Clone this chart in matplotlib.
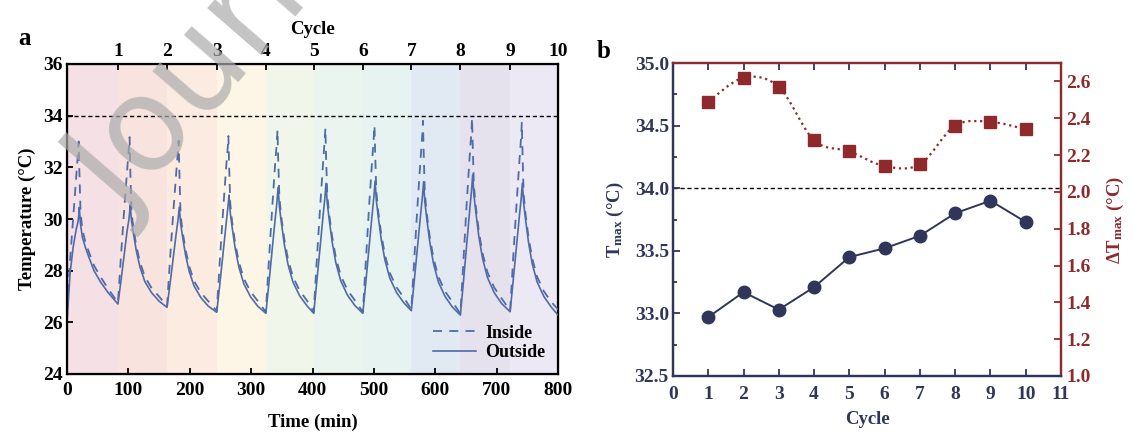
import numpy as np
import matplotlib
matplotlib.use("Agg")
import matplotlib.pyplot as plt
from matplotlib.path import Path
from matplotlib.patches import PathPatch

plt.rcParams['font.family'] = ['Liberation Serif', 'DejaVu Serif']
plt.rcParams['font.weight'] = 'bold'
plt.rcParams['axes.labelweight'] = 'bold'
plt.rcParams['mathtext.fontset'] = 'custom'
plt.rcParams['mathtext.rm'] = 'Liberation Serif:bold'
plt.rcParams['mathtext.it'] = 'Liberation Serif:bold'
plt.rcParams['mathtext.bf'] = 'Liberation Serif:bold'

# ---- panel a : temperature record ----
cycle_start = [0, 83, 163, 244, 324, 402, 482, 561, 641, 722]
cycle_end = [83, 163, 244, 324, 402, 482, 561, 641, 722, 800]
cycle_labels = ['1', '2', '3', '4', '5', '6', '7', '8', '9', '10']
offsets = [0, 5, 10, 15, 18, 19, 20, 22, 25, 30, 36, 44, 55, 67]

outside = [
    [26.00, 27.90, 28.90, 29.60, 29.90, 30.10, 30.45, 29.80, 29.30, 28.90, 28.50, 28.00, 27.55, 27.15],
    [26.71, 27.62, 28.60, 29.55, 30.00, 30.25, 30.55, 29.95, 29.48, 28.76, 28.13, 27.57, 27.14, 26.82],
    [26.58, 27.51, 28.48, 29.45, 29.99, 30.23, 30.46, 29.85, 29.36, 28.63, 27.98, 27.41, 26.96, 26.63],
    [26.39, 27.48, 28.61, 29.75, 30.39, 30.66, 30.93, 30.24, 29.69, 28.87, 28.14, 27.50, 26.99, 26.62],
    [26.35, 27.52, 28.74, 29.96, 30.64, 30.94, 31.23, 30.50, 29.91, 29.03, 28.25, 27.57, 27.03, 26.64],
    [26.35, 27.56, 28.81, 30.07, 30.78, 31.08, 31.38, 30.63, 30.02, 29.12, 28.31, 27.61, 27.05, 26.65],
    [26.35, 27.58, 28.86, 30.14, 30.86, 31.16, 31.47, 30.72, 30.11, 29.21, 28.41, 27.71, 27.15, 26.75],
    [26.45, 27.65, 28.90, 30.14, 30.84, 31.14, 31.44, 30.67, 30.05, 29.12, 28.29, 27.57, 27.00, 26.59],
    [26.28, 27.59, 28.95, 30.31, 31.07, 31.39, 31.72, 30.92, 30.29, 29.33, 28.48, 27.74, 27.15, 26.73],
    [26.41, 27.61, 28.85, 30.10, 30.79, 31.09, 31.39, 30.62, 30.01, 29.09, 28.27, 27.56, 27.00, 26.59],
]
inside = [
    [26.50, 28.40, 30.00, 31.60, 32.60, 33.00, 32.00, 30.30, 29.60, 29.10, 28.70, 28.20, 27.75, 27.30],
    [26.76, 28.60, 30.30, 31.90, 32.80, 33.17, 32.00, 30.30, 29.70, 28.95, 28.32, 27.76, 27.32, 27.00],
    [26.63, 28.50, 30.20, 31.80, 32.70, 33.03, 31.90, 30.20, 29.58, 28.83, 28.18, 27.60, 27.15, 26.82],
    [26.44, 28.40, 30.20, 31.90, 32.80, 33.21, 32.20, 30.60, 29.90, 29.07, 28.34, 27.70, 27.19, 26.82],
    [26.40, 28.40, 30.30, 32.10, 33.00, 33.45, 32.40, 30.85, 30.11, 29.23, 28.45, 27.77, 27.23, 26.84],
    [26.40, 28.40, 30.30, 32.10, 33.10, 33.52, 32.50, 30.98, 30.22, 29.32, 28.51, 27.81, 27.25, 26.85],
    [26.40, 28.40, 30.40, 32.20, 33.20, 33.62, 32.60, 31.07, 30.31, 29.41, 28.61, 27.91, 27.35, 26.95],
    [26.50, 28.50, 30.50, 32.30, 33.30, 33.80, 32.70, 31.02, 30.25, 29.32, 28.49, 27.77, 27.20, 26.79],
    [26.33, 28.40, 30.50, 32.40, 33.40, 33.90, 32.90, 31.27, 30.49, 29.53, 28.68, 27.94, 27.35, 26.93],
    [26.46, 28.50, 30.40, 32.20, 33.20, 33.73, 32.70, 30.97, 30.21, 29.29, 28.47, 27.76, 27.20, 26.79],
]
end_time = 800
end_outside = 26.28
end_inside = 26.50

band_colors = ['#F5E0E6', '#F8E3DF', '#FCEBE1', '#FDF5E6', '#F1F6EA',
               '#E9F5EE', '#E7F3F1', '#E1EAF3', '#E5E2EE', '#ECE8F4']

# ---- panel b : per-cycle maxima ----
cycles = [1, 2, 3, 4, 5, 6, 7, 8, 9, 10]
t_max = [32.97, 33.17, 33.03, 33.21, 33.45, 33.52, 33.62, 33.80, 33.90, 33.73]
dt_max = [2.49, 2.62, 2.57, 2.28, 2.22, 2.14, 2.15, 2.36, 2.38, 2.34]

line_c = '#4F6BA8'
navy = '#2F3659'
red = '#8E2A2C'
fs_tick = 14
fs_lab = 13.5


def smooth_path(xs, ys):
    # cubic Bezier segments through the points (Catmull-Rom style handles)
    pts = np.column_stack([xs, ys]).astype(float)
    n = len(pts)
    verts = [pts[0]]
    codes = [Path.MOVETO]
    for i in range(n - 1):
        p0 = pts[i - 1] if i > 0 else pts[i]
        p1 = pts[i]
        p2 = pts[i + 1]
        p3 = pts[i + 2] if i + 2 < n else pts[i + 1]
        verts += [p1 + (p2 - p0) / 6.0, p2 - (p3 - p1) / 6.0, p2]
        codes += [Path.CURVE4] * 3
    return Path(verts, codes)


t_all = []
out_all = []
in_all = []
for i in range(10):
    for k, o in enumerate(offsets):
        t_all.append(cycle_start[i] + o)
        out_all.append(outside[i][k])
        in_all.append(inside[i][k])
t_all.append(end_time)
out_all.append(end_outside)
in_all.append(end_inside)

fig = plt.figure(figsize=(11.33, 4.32), dpi=100)

ax1 = fig.add_axes([67 / 1133, 58 / 432, 491 / 1133, 310 / 432])
left = 0
for i in range(10):
    ax1.axvspan(left, cycle_end[i], color=band_colors[i], lw=0, zorder=0)
    left = cycle_end[i]
ax1.axhline(34, color='black', ls=(0, (3, 2)), lw=1.0, zorder=1)
ax1.plot(t_all, in_all, color=line_c, ls=(0, (5, 4)), lw=1.3, label='Inside', zorder=3)
ax1.plot(t_all, out_all, color=line_c, ls='-', lw=1.2, label='Outside', zorder=3)
ax1.set_xlim(0, 800)
ax1.set_ylim(24, 36)
ax1.set_xticks(np.arange(0, 801, 100))
ax1.set_yticks(np.arange(24, 37, 2))
ax1.tick_params(direction='in', length=4, width=1.3, labelsize=fs_tick, pad=3)
ax1.tick_params(axis='x', pad=6)
for s in ax1.spines.values():
    s.set_linewidth(1.6)
ax1.set_xlabel('Time (min)', fontsize=fs_lab, labelpad=10)
ax1.set_ylabel('Temperature (°C)', fontsize=fs_lab, labelpad=5)
leg = ax1.legend(loc='lower right', frameon=False, fontsize=13, handlelength=2.4,
                 handletextpad=0.5, borderaxespad=0.3, labelspacing=0.15)

top = ax1.twiny()
top.set_xlim(0, 800)
top.set_xticks(cycle_end)
top.set_xticklabels(cycle_labels)
top.tick_params(direction='in', length=4, width=1.3, labelsize=fs_tick, pad=3)
top.set_xlabel('Cycle', fontsize=fs_lab, labelpad=6)

# ---- panel b ----
ax2 = fig.add_axes([673 / 1133, 56 / 432, 388 / 1133, 313 / 432])
ax3 = ax2.twinx()
ax2.axhline(34.0, color='black', ls=(0, (3, 2)), lw=1.0, zorder=1)
ax2.plot(cycles, t_max, color=navy, marker='o', ms=9, lw=1.4, zorder=3)
ax3.add_patch(PathPatch(smooth_path(cycles, dt_max), facecolor='none', edgecolor=red,
                        lw=1.6, ls=':', zorder=2))
ax3.plot(cycles, dt_max, color=red, marker='s', ms=9, ls='none', zorder=3)
ax2.set_xlim(0, 11)
ax2.set_ylim(32.5, 35.0)
ax3.set_ylim(1.0, 2.7)
ax2.set_xticks(range(0, 12))
ax2.set_yticks([32.5, 33.0, 33.5, 34.0, 34.5, 35.0])
ax2.set_yticks(np.arange(32.75, 35.0, 0.5), minor=True)
ax3.set_yticks([1.0, 1.2, 1.4, 1.6, 1.8, 2.0, 2.2, 2.4, 2.6])
ax2.yaxis.set_major_formatter(matplotlib.ticker.FormatStrFormatter('%.1f'))
ax3.yaxis.set_major_formatter(matplotlib.ticker.FormatStrFormatter('%.1f'))
ax2.tick_params(axis='both', which='both', direction='in', width=1.3, labelsize=fs_tick,
                colors=navy, pad=3)
ax2.tick_params(which='major', length=5)
ax2.tick_params(which='minor', length=3)
ax2.tick_params(axis='x', top=True, pad=7)
for t in ax2.xaxis.get_major_ticks():
    t.tick2line.set_color(red)
ax3.tick_params(axis='y', direction='in', length=5, width=1.3, labelsize=fs_tick,
                colors=red, pad=4)
for a in (ax2, ax3):
    a.spines['left'].set_color(navy)
    a.spines['bottom'].set_color(navy)
    a.spines['top'].set_color(red)
    a.spines['right'].set_color(red)
    for s in a.spines.values():
        s.set_linewidth(1.6)
ax2.set_xlabel('Cycle', fontsize=fs_lab, color=navy, labelpad=6)
ax2.set_ylabel(r'T$_{\mathregular{max}}$ (°C)', fontsize=fs_lab, color=navy, labelpad=6)
ax3.set_ylabel(r'ΔT$_{\mathregular{max}}$ (°C)', fontsize=fs_lab, color=red, labelpad=10)

fig.text(0.016, 0.895, 'a', fontsize=18, fontweight='bold')
fig.text(0.527, 0.865, 'b', fontsize=18, fontweight='bold')

# journal watermark
fig.text(0.111, 0.49, 'Journal Pre-proof', fontsize=94, family='DejaVu Sans',
         fontweight='normal', color='#ABABAB', alpha=0.7, rotation=49,
         rotation_mode='anchor', ha='left', va='baseline', zorder=10)

fig.savefig('out.png', dpi=100)
